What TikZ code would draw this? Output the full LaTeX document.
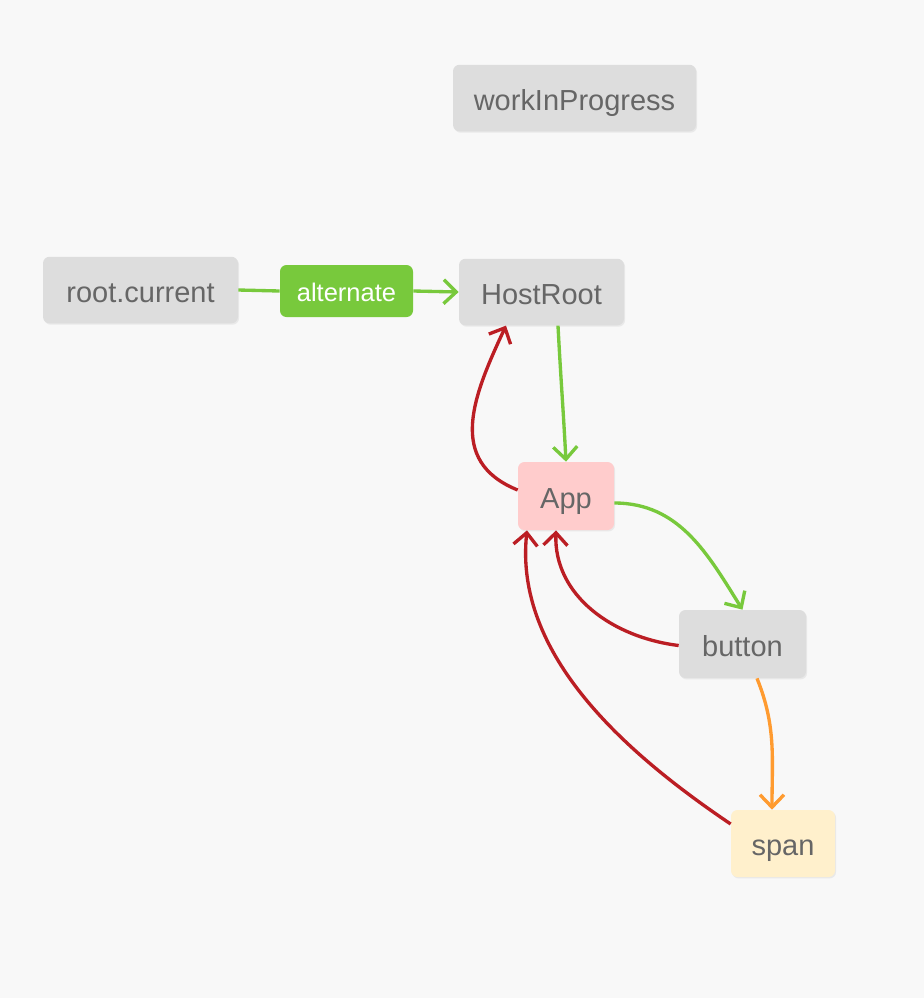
\documentclass[tikz,border=0pt]{standalone}
\usepackage{fontspec}
\setmainfont{Liberation Sans}
\usepackage{xcolor}
\usepackage{tikz}
\usetikzlibrary{shapes,arrows,positioning,calc,shadows,arrows.meta}
\definecolor{bgc}{HTML}{F8F8F8}
\definecolor{boxgray}{HTML}{DDDDDD}
\definecolor{txtgray}{HTML}{666666}
\definecolor{linkgreen}{HTML}{78C93C}
\definecolor{backred}{HTML}{BB1E24}
\definecolor{childorange}{HTML}{FF9B30}
\definecolor{apppink}{HTML}{FFCCCC}
\definecolor{spanyellow}{HTML}{FFF0CC}

\begin{document}
\begin{tikzpicture}[auto,
    box/.style={rectangle,rounded corners=0.13cm,fill=boxgray,text=txtgray,font=\fontsize{16.5}{19}\selectfont,text height=14pt,text depth=0pt,minimum height=1.33cm,inner sep=0pt,drop shadow={shadow xshift=0.6pt,shadow yshift=-0.8pt,opacity=0.12}},
    tag/.style={rectangle,rounded corners=0.13cm,fill=linkgreen,text=white,font=\fontsize{14.5}{17}\selectfont,text height=12pt,text depth=0pt,minimum height=1.04cm,inner sep=0pt},
    tip/.style={-{Straight Barb[length=2.5mm,width=4.8mm,line width=1.9pt]}},
    child/.style={line width=1.9pt,draw=linkgreen,tip},
    back/.style={line width=1.9pt,draw=backred,tip},
    sib/.style={line width=1.9pt,draw=childorange,tip}]
    \fill[bgc] (0,0) rectangle (18.48,-19.96);
    \useasboundingbox (0,0) rectangle (18.48,-19.96);

    \node[box,minimum width=4.86cm] (wip) at (11.49,-1.96) {workInProgress};
    \node[box,minimum width=3.9cm] (current) at (2.81,-5.80) {root.current};
    \node[tag,minimum width=2.66cm] (alternate) at (6.93,-5.82) {alternate};
    \node[box,minimum width=3.3cm] (HostRoot) at (10.83,-5.84) {HostRoot};
    \node[box,fill=apppink,minimum width=1.92cm,minimum height=1.36cm] (App) at (11.32,-9.92) {App};
    \node[box,minimum width=2.54cm,minimum height=1.36cm] (button) at (14.85,-12.88) {button};
    \node[box,fill=spanyellow,minimum width=2.08cm,minimum height=1.34cm] (span) at (15.66,-16.87) {span};

    % child links
    \draw[line width=1.9pt,linkgreen] (current.east) -- (alternate.west);
    \draw[child] (alternate.east) -- (HostRoot.west);
    \draw[child] ([xshift=0.33cm]HostRoot.south) to[out=-87,in=93] (App.north);
    \draw[child] ([yshift=-0.14cm]App.east) to[out=0,in=122] (button.north);
    \draw[sib] ([xshift=0.29cm]button.south) to[out=-68,in=90] ([xshift=-0.22cm]span.north);

    % return paths
    \draw[back] ([yshift=0.12cm]App.west) to[out=158,in=245,looseness=1.2] ([xshift=-0.71cm]HostRoot.south);
    \draw[back] ([yshift=-0.03cm]button.west) to[out=173,in=268] ([xshift=-0.2cm]App.south);
    \draw[back] ([yshift=0.39cm]span.west) to[out=146,in=264,looseness=0.9] ([xshift=-0.78cm]App.south);
\end{tikzpicture}
\end{document}
